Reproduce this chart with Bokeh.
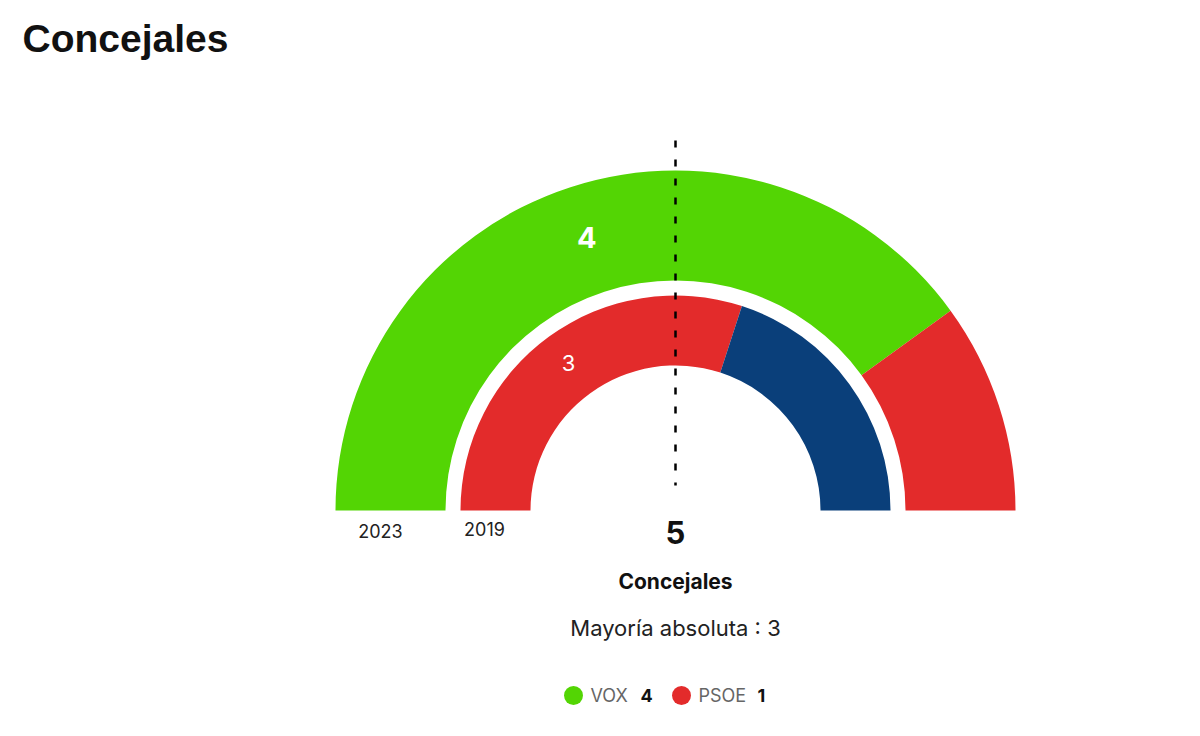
import math
from bokeh.plotting import figure
from bokeh.models import Range1d, ColumnDataSource
from bokeh.core.properties import value
from bokeh.embed import file_html
from bokeh.resources import INLINE

# ---- data ----
rings = ["2023", "2019"]
parties_2023 = ["VOX", "PSOE"]
seats_2023 = [4, 1]
colors_2023 = ["#53d504", "#e32b2b"]
parties_2019 = ["PSOE", "PP"]
seats_2019 = [3, 2]
colors_2019 = ["#e32b2b", "#0a3f7a"]
total_seats = 5
majority = 3

W, H = 1200, 736
p = figure(width=W, height=H, output_backend="svg", toolbar_location=None,
           x_range=Range1d(0, W), y_range=Range1d(0, H),
           x_axis_location=None, y_axis_location=None, min_border=0)
p.grid.visible = False
p.outline_line_color = None
p.background_fill_color = "white"
p.border_fill_color = "white"

def Y(y):
    return H - y

cx, cy = 675, Y(510)

def ring(seats, colors, r_in, r_out):
    total = sum(seats)
    starts, ends = [], []
    acc = 0
    for s in seats:
        # from the left (pi) going clockwise
        a_hi = math.pi * (1 - acc / total)
        a_lo = math.pi * (1 - (acc + s) / total)
        starts.append(a_lo)
        ends.append(a_hi)
        acc += s
    src = ColumnDataSource(dict(x=[cx] * len(seats), y=[cy] * len(seats),
                                start=starts, end=ends, color=colors))
    p.annular_wedge(x="x", y="y", inner_radius=r_in, outer_radius=r_out,
                    start_angle="start", end_angle="end", fill_color="color",
                    line_color=None, source=src)
    return starts, ends

s23, e23 = ring(seats_2023, colors_2023, 230, 340)
s19, e19 = ring(seats_2019, colors_2019, 145, 215)

FONT = value("Inter")

# labels in the largest segment of each ring
mid = (s23[0] + e23[0]) / 2
r = 287
p.text(x=[cx + r * math.cos(mid)], y=[cy + r * math.sin(mid)], text=[str(seats_2023[0])],
       text_color="white", text_font=FONT, text_font_size="29px", text_font_style="bold",
       text_align="center", text_baseline="middle")
mid = (s19[0] + e19[0]) / 2
r = 182
p.text(x=[cx + r * math.cos(mid)], y=[cy + r * math.sin(mid)], text=[str(seats_2019[0])],
       text_color="white", text_font=FONT, text_font_size="22px",
       text_align="center", text_baseline="middle")

# dashed majority line
p.segment(x0=[cx], y0=[Y(140)], x1=[cx], y1=[Y(485)], line_color="black",
          line_width=2.5, line_dash="7 12")

# ring year labels
p.text(x=[380, 484], y=[Y(530), Y(528)], text=rings, text_color="#222222",
       text_font=FONT, text_font_size="18px", text_align="center", text_baseline="middle")

# center labels
p.text(x=[cx], y=[Y(532)], text=[str(total_seats)], text_color="#111111", text_font=FONT,
       text_font_size="31px", text_font_style="bold", text_align="center", text_baseline="middle")
p.text(x=[cx], y=[Y(581)], text=["Concejales"], text_color="#111111", text_font=FONT,
       text_font_size="21px", text_font_style="bold", text_align="center", text_baseline="middle")
p.text(x=[cx], y=[Y(627)], text=["Mayoría absoluta : %d" % majority], text_color="#222222",
       text_font=FONT, text_font_size="22px", text_align="center", text_baseline="middle")

# title
p.text(x=[22], y=[Y(38)], text=["Concejales"], text_color="#111111",
       text_font=value("Liberation Sans"), text_font_size="39px", text_font_style="bold",
       text_align="left", text_baseline="middle")

# legend
leg_x = [573, 681]
p.scatter(x=leg_x, y=[Y(695)] * 2, size=19, fill_color=colors_2023, line_color=None)
p.text(x=[590, 698], y=[Y(695)] * 2, text=parties_2023, text_color="#666666", text_font=FONT,
       text_font_size="18px", text_align="left", text_baseline="middle")
p.text(x=[640, 757], y=[Y(695)] * 2, text=[str(s) for s in seats_2023], text_color="#111111",
       text_font=FONT, text_font_size="18px", text_font_style="bold",
       text_align="left", text_baseline="middle")

open("out.html", "w").write(file_html(p, INLINE))
